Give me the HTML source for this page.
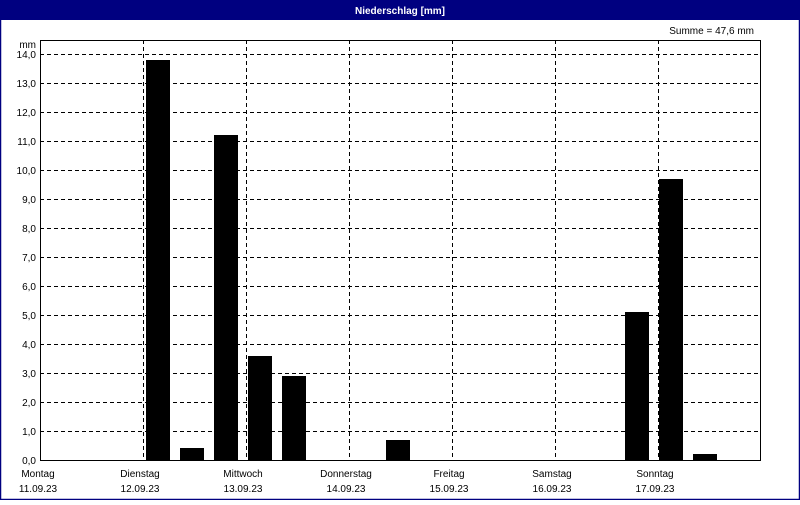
<!DOCTYPE html>
<html><head><style>
body{margin:0;width:800px;height:500px;overflow:hidden;background:#fff}
</style></head><body>
<svg width="800" height="500" xmlns="http://www.w3.org/2000/svg" font-family="Liberation Sans, DejaVu Sans, sans-serif" font-size="10">
<rect x="0" y="0" width="800" height="500" fill="#fff"/>
<rect x="0.5" y="0.5" width="799" height="499" fill="none" stroke="#000080" stroke-width="1.5"/>
<rect x="0" y="0" width="800" height="20" fill="#000080"/>
<text x="400" y="14" fill="#fff" font-weight="bold" text-anchor="middle">Niederschlag [mm]</text>
<text x="754" y="34" text-anchor="end">Summe = 47,6 mm</text>
<text x="36" y="48" text-anchor="end">mm</text>
<g stroke="#000" stroke-dasharray="4,3" stroke-width="1">
<line x1="40" y1="54.5" x2="761" y2="54.5"/><line x1="40" y1="83.5" x2="761" y2="83.5"/>
<line x1="40" y1="112.5" x2="761" y2="112.5"/><line x1="40" y1="141.5" x2="761" y2="141.5"/>
<line x1="40" y1="170.5" x2="761" y2="170.5"/><line x1="40" y1="199.5" x2="761" y2="199.5"/>
<line x1="40" y1="228.5" x2="761" y2="228.5"/><line x1="40" y1="257.5" x2="761" y2="257.5"/>
<line x1="40" y1="286.5" x2="761" y2="286.5"/><line x1="40" y1="315.5" x2="761" y2="315.5"/>
<line x1="40" y1="344.5" x2="761" y2="344.5"/><line x1="40" y1="373.5" x2="761" y2="373.5"/>
<line x1="40" y1="402.5" x2="761" y2="402.5"/><line x1="40" y1="431.5" x2="761" y2="431.5"/>
<line x1="143.5" y1="40" x2="143.5" y2="460"/><line x1="246.5" y1="40" x2="246.5" y2="460"/>
<line x1="349.5" y1="40" x2="349.5" y2="460"/><line x1="452.5" y1="40" x2="452.5" y2="460"/>
<line x1="555.5" y1="40" x2="555.5" y2="460"/><line x1="658.5" y1="40" x2="658.5" y2="460"/>
</g>
<g fill="#000">
<rect x="146" y="60" width="24" height="400"/>
<rect x="180" y="448" width="24" height="12"/>
<rect x="214" y="135" width="24" height="325"/>
<rect x="248" y="356" width="24" height="104"/>
<rect x="282" y="376" width="24" height="84"/>
<rect x="386" y="440" width="24" height="20"/>
<rect x="625" y="312" width="24" height="148"/>
<rect x="659" y="179" width="24" height="281"/>
<rect x="693" y="454" width="24" height="6"/>
</g>
<rect x="40.5" y="40.5" width="720" height="420" fill="none" stroke="#000" stroke-width="1"/>
<g text-anchor="end">
<text x="36" y="58">14,0</text><text x="36" y="87">13,0</text><text x="36" y="116">12,0</text>
<text x="36" y="145">11,0</text><text x="36" y="174">10,0</text><text x="36" y="203">9,0</text>
<text x="36" y="232">8,0</text><text x="36" y="261">7,0</text><text x="36" y="290">6,0</text>
<text x="36" y="319">5,0</text><text x="36" y="348">4,0</text><text x="36" y="377">3,0</text>
<text x="36" y="406">2,0</text><text x="36" y="435">1,0</text><text x="36" y="464">0,0</text>
</g>
<g text-anchor="middle">
<text x="38" y="477">Montag</text><text x="38" y="492">11.09.23</text>
<text x="140" y="477">Dienstag</text><text x="140" y="492">12.09.23</text>
<text x="243" y="477">Mittwoch</text><text x="243" y="492">13.09.23</text>
<text x="346" y="477">Donnerstag</text><text x="346" y="492">14.09.23</text>
<text x="449" y="477">Freitag</text><text x="449" y="492">15.09.23</text>
<text x="552" y="477">Samstag</text><text x="552" y="492">16.09.23</text>
<text x="655" y="477">Sonntag</text><text x="655" y="492">17.09.23</text>
</g>
</svg>
</body></html>
